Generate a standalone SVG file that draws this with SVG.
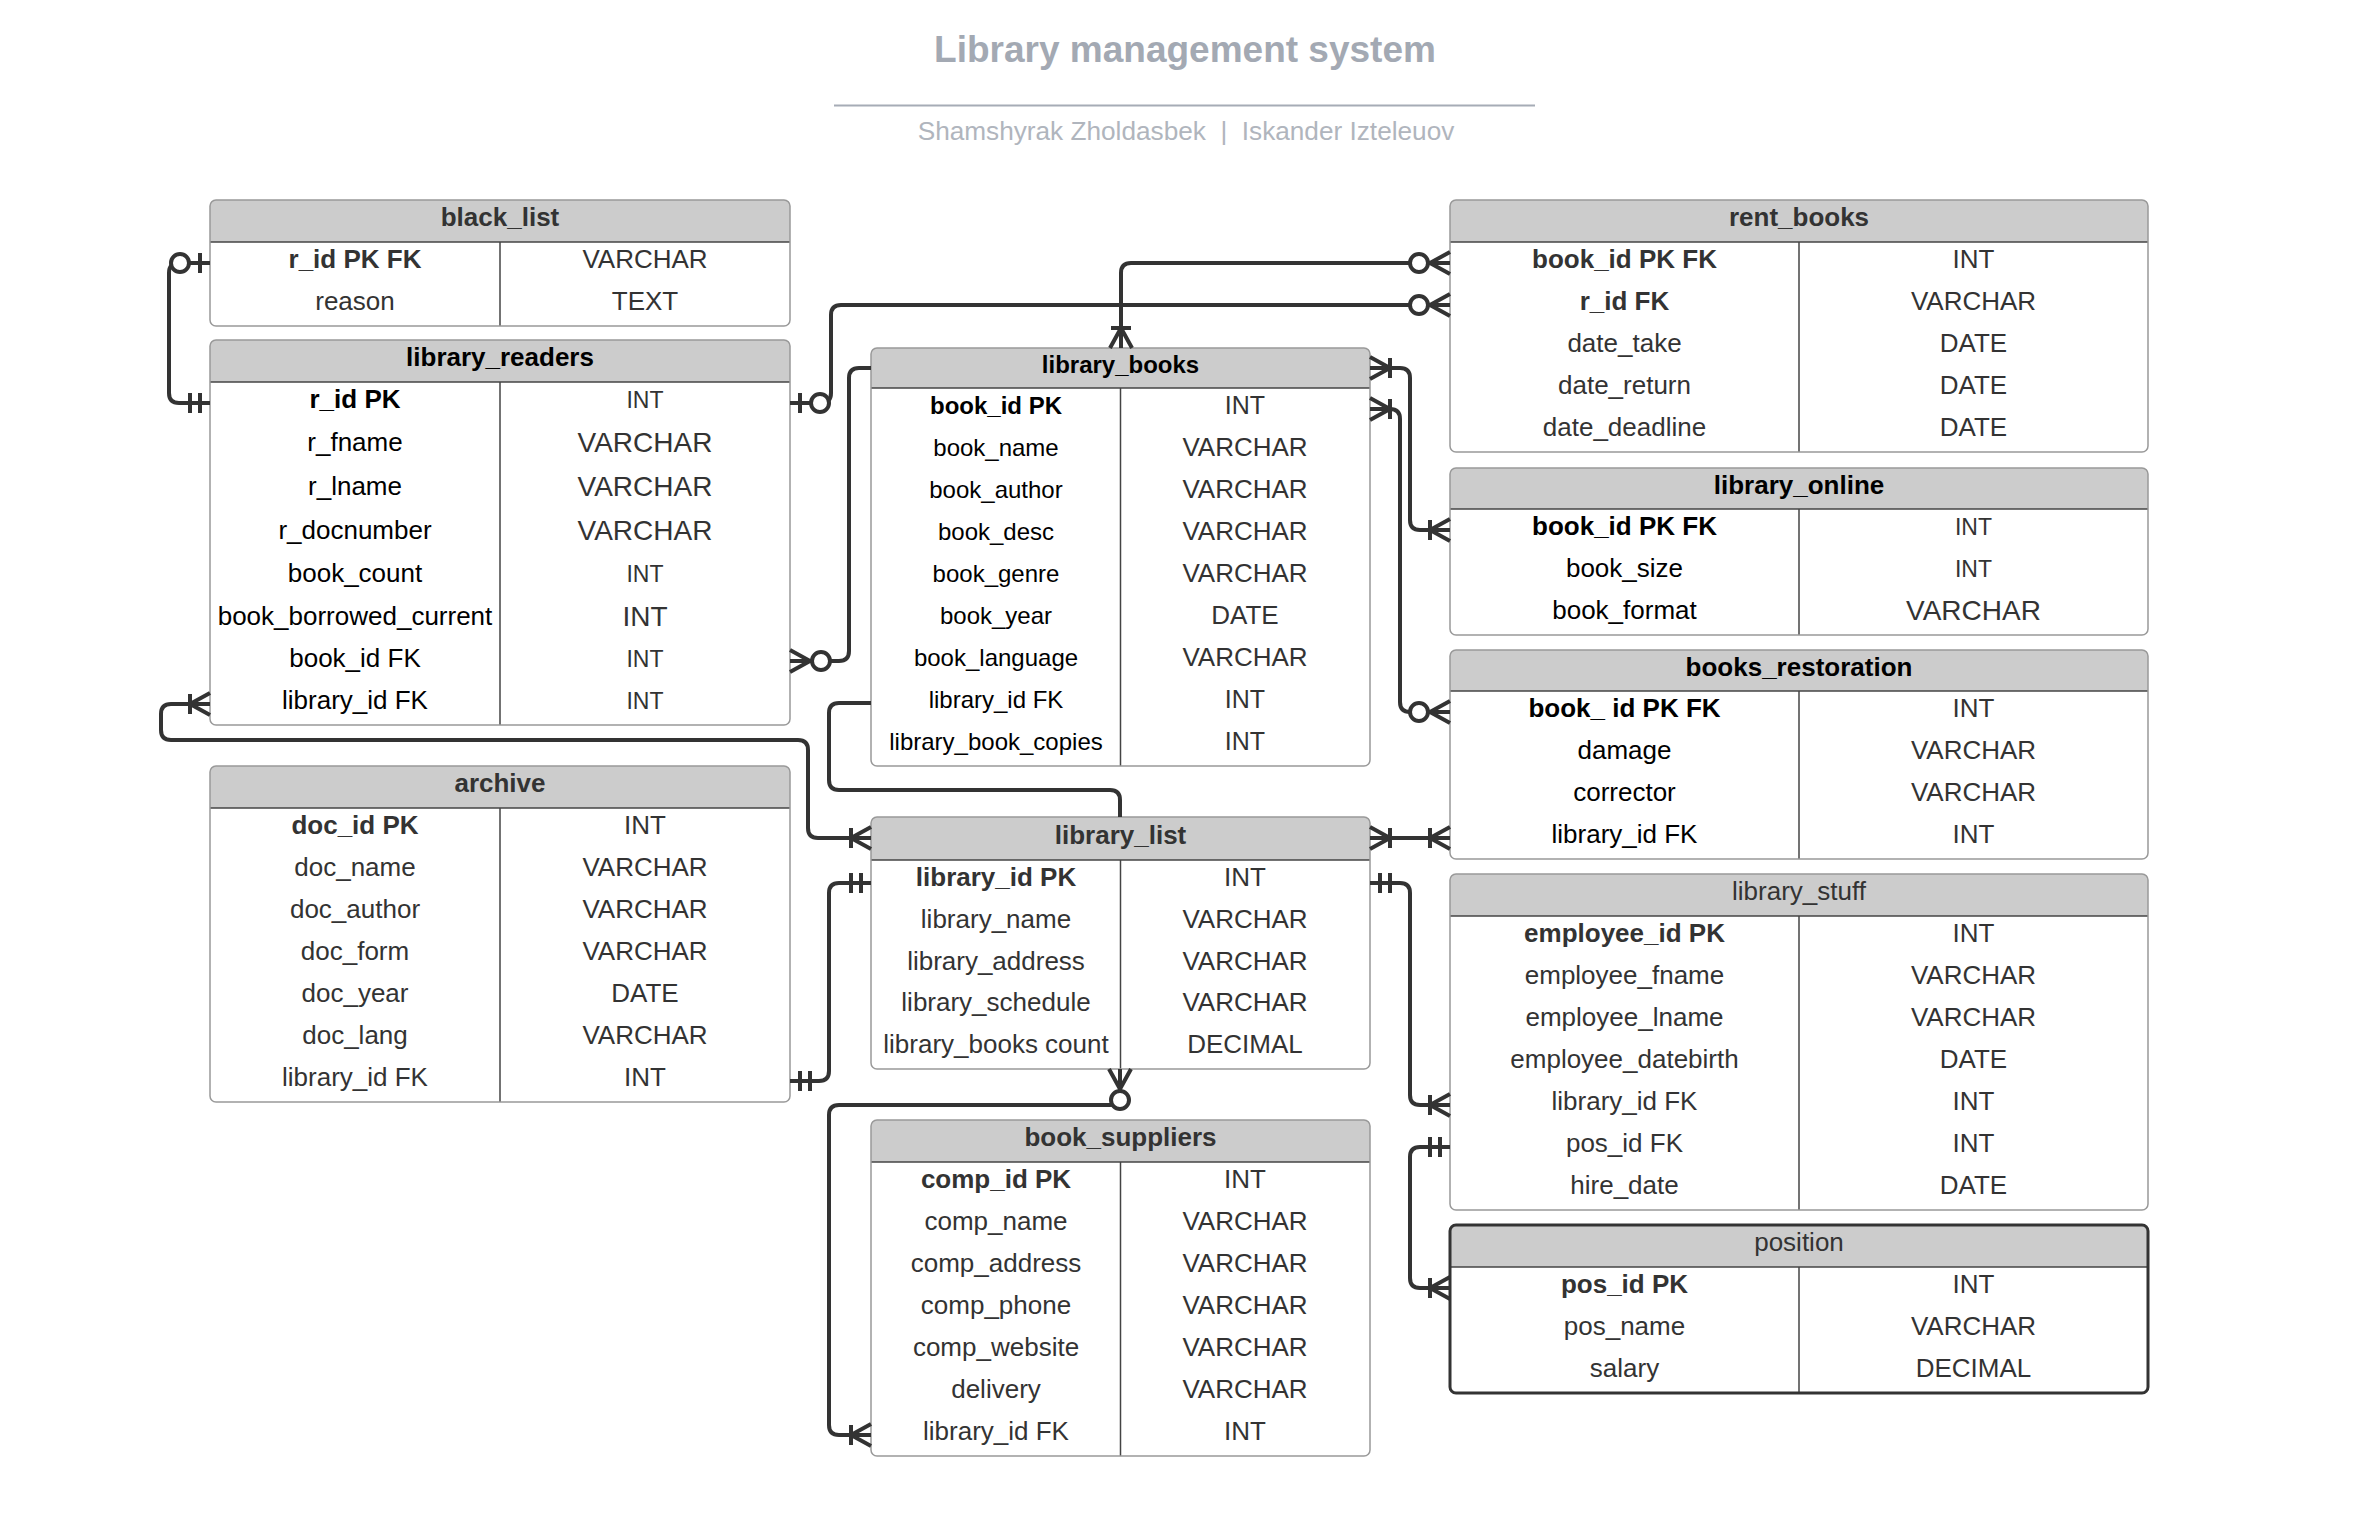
<svg xmlns="http://www.w3.org/2000/svg" width="2365" height="1529" viewBox="0 0 2365 1529">
<style>
.t{font-family:"Liberation Sans",Arial,sans-serif;font-size:26px;text-anchor:middle;fill:#333}
.b{font-weight:bold}
.k{fill:#000}
.s23{font-size:23px}.s24{font-size:24px}.s25{font-size:25px}.s28{font-size:28px}
.bg{fill:#fff;stroke:none}
.hd{fill:#ccc;stroke:none}
.ln{stroke:#444;stroke-width:1.5}
.ol{fill:none;stroke:#999;stroke-width:1.5}
.olk{fill:none;stroke:#333;stroke-width:3}
.conn path{fill:none;stroke:#333;stroke-width:4;stroke-linejoin:round}
.ttl{font-family:"Liberation Sans",Arial,sans-serif;text-anchor:middle}
</style>
<defs>
<marker id="m1n" markerUnits="userSpaceOnUse" viewBox="-45 -15 50 30" refX="0" refY="0" markerWidth="50" markerHeight="30" orient="auto-start-reverse" overflow="visible">
<path d="M-20,-10 V10 M-20,0 L0,-11 M-20,0 L0,11" fill="none" stroke="#333" stroke-width="4"/>
</marker>
<marker id="m0n" markerUnits="userSpaceOnUse" viewBox="-45 -15 50 30" refX="0" refY="0" markerWidth="50" markerHeight="30" orient="auto-start-reverse" overflow="visible">
<path d="M-20,0 L0,-11 M-20,0 L0,11" fill="none" stroke="#333" stroke-width="4"/>
<circle cx="-31" cy="0" r="9" fill="#fff" stroke="#333" stroke-width="4"/>
</marker>
<marker id="m01" markerUnits="userSpaceOnUse" viewBox="-45 -15 50 30" refX="0" refY="0" markerWidth="50" markerHeight="30" orient="auto-start-reverse" overflow="visible">
<path d="M-10,-10 V10" fill="none" stroke="#333" stroke-width="4"/>
<circle cx="-30" cy="0" r="9" fill="#fff" stroke="#333" stroke-width="4"/>
</marker>
<marker id="m11" markerUnits="userSpaceOnUse" viewBox="-45 -15 50 30" refX="0" refY="0" markerWidth="50" markerHeight="30" orient="auto-start-reverse" overflow="visible">
<path d="M-10,-10 V10 M-20,-10 V10" fill="none" stroke="#333" stroke-width="4"/>
</marker>
</defs>
<rect x="0" y="0" width="2365" height="1529" fill="#fff"/>

<g id="title">
<text class="ttl" x="1185" y="62" font-size="37" font-weight="bold" fill="#a3a9b3">Library management system</text>
<line x1="834" y1="105.5" x2="1535" y2="105.5" stroke="#a6acb6" stroke-width="2"/>
<text class="ttl" x="1186" y="140" font-size="26.2" fill="#b0b5bd">Shamshyrak Zholdasbek &#160;|&#160; Iskander Izteleuov</text>
</g>

<g id="black_list">
<rect class="bg" x="210" y="200" width="580" height="126" rx="6"/>
<path class="hd" d="M210,242 V206 Q210,200 216,200 H784 Q790,200 790,206 V242 Z"/>
<line class="ln" x1="210" y1="242" x2="790" y2="242"/>
<line class="ln" x1="500" y1="242" x2="500" y2="326"/>
<rect class="ol" x="210" y="200" width="580" height="126" rx="6"/>
<text class="t b" x="500" y="226">black_list</text>
<text class="t b" x="355" y="268">r_id PK FK</text><text class="t" x="645" y="268">VARCHAR</text>
<text class="t" x="355" y="310">reason</text><text class="t" x="645" y="310">TEXT</text>
</g>

<g id="library_readers">
<rect class="bg" x="210" y="340" width="580" height="385" rx="6"/>
<path class="hd" d="M210,382 V346 Q210,340 216,340 H784 Q790,340 790,346 V382 Z"/>
<line class="ln" x1="210" y1="382" x2="790" y2="382"/>
<line class="ln" x1="500" y1="382" x2="500" y2="725"/>
<rect class="ol" x="210" y="340" width="580" height="385" rx="6"/>
<text class="t b k" x="500" y="366">library_readers</text>
<text class="t b k" x="355" y="408">r_id PK</text><text class="t s23" x="645" y="408">INT</text>
<text class="t k" x="355" y="451">r_fname</text><text class="t s28" x="645" y="452">VARCHAR</text>
<text class="t k" x="355" y="495">r_lname</text><text class="t s28" x="645" y="496">VARCHAR</text>
<text class="t k" x="355" y="539">r_docnumber</text><text class="t s28" x="645" y="540">VARCHAR</text>
<text class="t k" x="355" y="582">book_count</text><text class="t s23" x="645" y="582">INT</text>
<text class="t k" x="355" y="625">book_borrowed_current</text><text class="t s28" x="645" y="626">INT</text>
<text class="t k" x="355" y="667">book_id FK</text><text class="t s23" x="645" y="667">INT</text>
<text class="t k" x="355" y="709">library_id FK</text><text class="t s23" x="645" y="709">INT</text>
</g>

<g id="library_books">
<rect class="bg" x="871" y="348" width="499" height="418" rx="6"/>
<path class="hd" d="M871,388 V354 Q871,348 877,348 H1364 Q1370,348 1370,354 V388 Z"/>
<line class="ln" x1="871" y1="388" x2="1370" y2="388"/>
<line class="ln" x1="1120.5" y1="388" x2="1120.5" y2="766"/>
<rect class="ol" x="871" y="348" width="499" height="418" rx="6"/>
<text class="t b k s24" x="1120.5" y="373">library_books</text>
<text class="t b k s24" x="996" y="414">book_id PK</text><text class="t s25" x="1245" y="414">INT</text>
<text class="t k s24" x="996" y="456">book_name</text><text class="t" x="1245" y="456">VARCHAR</text>
<text class="t k s24" x="996" y="498">book_author</text><text class="t" x="1245" y="498">VARCHAR</text>
<text class="t k s24" x="996" y="540">book_desc</text><text class="t" x="1245" y="540">VARCHAR</text>
<text class="t k s24" x="996" y="582">book_genre</text><text class="t" x="1245" y="582">VARCHAR</text>
<text class="t k s24" x="996" y="624">book_year</text><text class="t" x="1245" y="624">DATE</text>
<text class="t k s24" x="996" y="666">book_language</text><text class="t" x="1245" y="666">VARCHAR</text>
<text class="t k s24" x="996" y="708">library_id FK</text><text class="t s25" x="1245" y="708">INT</text>
<text class="t k s24" x="996" y="750">library_book_copies</text><text class="t s25" x="1245" y="750">INT</text>
</g>

<g id="rent_books">
<rect class="bg" x="1450" y="200" width="698" height="252" rx="6"/>
<path class="hd" d="M1450,242 V206 Q1450,200 1456,200 H2142 Q2148,200 2148,206 V242 Z"/>
<line class="ln" x1="1450" y1="242" x2="2148" y2="242"/>
<line class="ln" x1="1799" y1="242" x2="1799" y2="452"/>
<rect class="ol" x="1450" y="200" width="698" height="252" rx="6"/>
<text class="t b" x="1799" y="226">rent_books</text>
<text class="t b" x="1624.5" y="268">book_id PK FK</text><text class="t" x="1973.5" y="268">INT</text>
<text class="t b" x="1624.5" y="310">r_id FK</text><text class="t" x="1973.5" y="310">VARCHAR</text>
<text class="t" x="1624.5" y="352">date_take</text><text class="t" x="1973.5" y="352">DATE</text>
<text class="t" x="1624.5" y="394">date_return</text><text class="t" x="1973.5" y="394">DATE</text>
<text class="t" x="1624.5" y="436">date_deadline</text><text class="t" x="1973.5" y="436">DATE</text>
</g>

<g id="library_online">
<rect class="bg" x="1450" y="468" width="698" height="167" rx="6"/>
<path class="hd" d="M1450,509 V474 Q1450,468 1456,468 H2142 Q2148,468 2148,474 V509 Z"/>
<line class="ln" x1="1450" y1="509" x2="2148" y2="509"/>
<line class="ln" x1="1799" y1="509" x2="1799" y2="635"/>
<rect class="ol" x="1450" y="468" width="698" height="167" rx="6"/>
<text class="t b k" x="1799" y="494">library_online</text>
<text class="t b k" x="1624.5" y="535">book_id PK FK</text><text class="t s23" x="1973.5" y="535">INT</text>
<text class="t k" x="1624.5" y="577">book_size</text><text class="t s23" x="1973.5" y="577">INT</text>
<text class="t k" x="1624.5" y="619">book_format</text><text class="t s28" x="1973.5" y="620">VARCHAR</text>
</g>

<g id="books_restoration">
<rect class="bg" x="1450" y="650" width="698" height="209" rx="6"/>
<path class="hd" d="M1450,691 V656 Q1450,650 1456,650 H2142 Q2148,650 2148,656 V691 Z"/>
<line class="ln" x1="1450" y1="691" x2="2148" y2="691"/>
<line class="ln" x1="1799" y1="691" x2="1799" y2="859"/>
<rect class="ol" x="1450" y="650" width="698" height="209" rx="6"/>
<text class="t b k" x="1799" y="676">books_restoration</text>
<text class="t b k" x="1624.5" y="717">book_ id PK FK</text><text class="t" x="1973.5" y="717">INT</text>
<text class="t k" x="1624.5" y="759">damage</text><text class="t" x="1973.5" y="759">VARCHAR</text>
<text class="t k" x="1624.5" y="801">corrector</text><text class="t" x="1973.5" y="801">VARCHAR</text>
<text class="t k" x="1624.5" y="843">library_id FK</text><text class="t" x="1973.5" y="843">INT</text>
</g>

<g id="archive">
<rect class="bg" x="210" y="766" width="580" height="336" rx="6"/>
<path class="hd" d="M210,808 V772 Q210,766 216,766 H784 Q790,766 790,772 V808 Z"/>
<line class="ln" x1="210" y1="808" x2="790" y2="808"/>
<line class="ln" x1="500" y1="808" x2="500" y2="1102"/>
<rect class="ol" x="210" y="766" width="580" height="336" rx="6"/>
<text class="t b" x="500" y="792">archive</text>
<text class="t b" x="355" y="834">doc_id PK</text><text class="t" x="645" y="834">INT</text>
<text class="t" x="355" y="876">doc_name</text><text class="t" x="645" y="876">VARCHAR</text>
<text class="t" x="355" y="918">doc_author</text><text class="t" x="645" y="918">VARCHAR</text>
<text class="t" x="355" y="960">doc_form</text><text class="t" x="645" y="960">VARCHAR</text>
<text class="t" x="355" y="1002">doc_year</text><text class="t" x="645" y="1002">DATE</text>
<text class="t" x="355" y="1044">doc_lang</text><text class="t" x="645" y="1044">VARCHAR</text>
<text class="t" x="355" y="1086">library_id FK</text><text class="t" x="645" y="1086">INT</text>
</g>

<g id="library_list">
<rect class="bg" x="871" y="817" width="499" height="252" rx="6"/>
<path class="hd" d="M871,860 V823 Q871,817 877,817 H1364 Q1370,817 1370,823 V860 Z"/>
<line class="ln" x1="871" y1="860" x2="1370" y2="860"/>
<line class="ln" x1="1120.5" y1="860" x2="1120.5" y2="1069"/>
<rect class="ol" x="871" y="817" width="499" height="252" rx="6"/>
<text class="t b" x="1120.5" y="844">library_list</text>
<text class="t b" x="996" y="886">library_id PK</text><text class="t" x="1245" y="886">INT</text>
<text class="t" x="996" y="928">library_name</text><text class="t" x="1245" y="928">VARCHAR</text>
<text class="t" x="996" y="970">library_address</text><text class="t" x="1245" y="970">VARCHAR</text>
<text class="t" x="996" y="1011">library_schedule</text><text class="t" x="1245" y="1011">VARCHAR</text>
<text class="t" x="996" y="1053">library_books count</text><text class="t" x="1245" y="1053">DECIMAL</text>
</g>

<g id="book_suppliers">
<rect class="bg" x="871" y="1120" width="499" height="336" rx="6"/>
<path class="hd" d="M871,1162 V1126 Q871,1120 877,1120 H1364 Q1370,1120 1370,1126 V1162 Z"/>
<line class="ln" x1="871" y1="1162" x2="1370" y2="1162"/>
<line class="ln" x1="1120.5" y1="1162" x2="1120.5" y2="1456"/>
<rect class="ol" x="871" y="1120" width="499" height="336" rx="6"/>
<text class="t b" x="1120.5" y="1146">book_suppliers</text>
<text class="t b" x="996" y="1188">comp_id PK</text><text class="t" x="1245" y="1188">INT</text>
<text class="t" x="996" y="1230">comp_name</text><text class="t" x="1245" y="1230">VARCHAR</text>
<text class="t" x="996" y="1272">comp_address</text><text class="t" x="1245" y="1272">VARCHAR</text>
<text class="t" x="996" y="1314">comp_phone</text><text class="t" x="1245" y="1314">VARCHAR</text>
<text class="t" x="996" y="1356">comp_website</text><text class="t" x="1245" y="1356">VARCHAR</text>
<text class="t" x="996" y="1398">delivery</text><text class="t" x="1245" y="1398">VARCHAR</text>
<text class="t" x="996" y="1440">library_id FK</text><text class="t" x="1245" y="1440">INT</text>
</g>

<g id="library_stuff">
<rect class="bg" x="1450" y="874" width="698" height="336" rx="6"/>
<path class="hd" d="M1450,916 V880 Q1450,874 1456,874 H2142 Q2148,874 2148,880 V916 Z"/>
<line class="ln" x1="1450" y1="916" x2="2148" y2="916"/>
<line class="ln" x1="1799" y1="916" x2="1799" y2="1210"/>
<rect class="ol" x="1450" y="874" width="698" height="336" rx="6"/>
<text class="t" x="1799" y="900">library_stuff</text>
<text class="t b" x="1624.5" y="942">employee_id PK</text><text class="t" x="1973.5" y="942">INT</text>
<text class="t" x="1624.5" y="984">employee_fname</text><text class="t" x="1973.5" y="984">VARCHAR</text>
<text class="t" x="1624.5" y="1026">employee_lname</text><text class="t" x="1973.5" y="1026">VARCHAR</text>
<text class="t" x="1624.5" y="1068">employee_datebirth</text><text class="t" x="1973.5" y="1068">DATE</text>
<text class="t" x="1624.5" y="1110">library_id FK</text><text class="t" x="1973.5" y="1110">INT</text>
<text class="t" x="1624.5" y="1152">pos_id FK</text><text class="t" x="1973.5" y="1152">INT</text>
<text class="t" x="1624.5" y="1194">hire_date</text><text class="t" x="1973.5" y="1194">DATE</text>
</g>

<g id="position">
<rect class="bg" x="1450" y="1225" width="698" height="168" rx="6"/>
<path class="hd" d="M1450,1267 V1231 Q1450,1225 1456,1225 H2142 Q2148,1225 2148,1231 V1267 Z"/>
<line class="ln" x1="1450" y1="1267" x2="2148" y2="1267" stroke-width="2.5"/>
<line class="ln" x1="1799" y1="1267" x2="1799" y2="1393" stroke-width="2"/>
<rect class="olk" x="1450" y="1225" width="698" height="168" rx="6"/>
<text class="t" x="1799" y="1251">position</text>
<text class="t b" x="1624.5" y="1293">pos_id PK</text><text class="t" x="1973.5" y="1293">INT</text>
<text class="t" x="1624.5" y="1335">pos_name</text><text class="t" x="1973.5" y="1335">VARCHAR</text>
<text class="t" x="1624.5" y="1377">salary</text><text class="t" x="1973.5" y="1377">DECIMAL</text>
</g>

<g id="connectors" class="conn">
<path d="M210,263 H179 Q169,263 169,273 V393 Q169,403 179,403 H210" marker-start="url(#m01)" marker-end="url(#m11)"/>
<path d="M790,403 H821 Q831,403 831,393 V315 Q831,305 841,305 H1450" marker-start="url(#m01)" marker-end="url(#m0n)"/>
<path d="M1450,263 H1131 Q1121,263 1121,273 V348" marker-start="url(#m0n)" marker-end="url(#m1n)"/>
<path d="M790,661 H839 Q849,661 849,651 V378 Q849,368 859,368 H871" marker-start="url(#m0n)"/>
<path d="M871,703 H839 Q829,703 829,713 V780 Q829,790 839,790 H1110 Q1120,790 1120,800 V817"/>
<path d="M210,704 H171 Q161,704 161,714 V730 Q161,740 171,740 H798 Q808,740 808,750 V828 Q808,838 818,838 H871" marker-start="url(#m1n)" marker-end="url(#m1n)"/>
<path d="M790,1081 H819 Q829,1081 829,1071 V893 Q829,883 839,883 H871" marker-start="url(#m11)" marker-end="url(#m11)"/>
<path d="M1120,1069 V1095 Q1120,1105 1110,1105 H839 Q829,1105 829,1115 V1425 Q829,1435 839,1435 H871" marker-start="url(#m0n)" marker-end="url(#m1n)"/>
<path d="M1370,838 H1450" marker-start="url(#m1n)" marker-end="url(#m1n)"/>
<path d="M1370,883 H1400 Q1410,883 1410,893 V1095 Q1410,1105 1420,1105 H1450" marker-start="url(#m11)" marker-end="url(#m1n)"/>
<path d="M1450,1147 H1420 Q1410,1147 1410,1157 V1278 Q1410,1288 1420,1288 H1450" marker-start="url(#m11)" marker-end="url(#m1n)"/>
<path d="M1370,368 H1400 Q1410,368 1410,378 V520 Q1410,530 1420,530 H1450" marker-start="url(#m1n)" marker-end="url(#m1n)"/>
<path d="M1370,409 H1390 Q1400,409 1400,419 V702 Q1400,712 1410,712 H1450" marker-start="url(#m1n)" marker-end="url(#m0n)"/>
</g>
</svg>
